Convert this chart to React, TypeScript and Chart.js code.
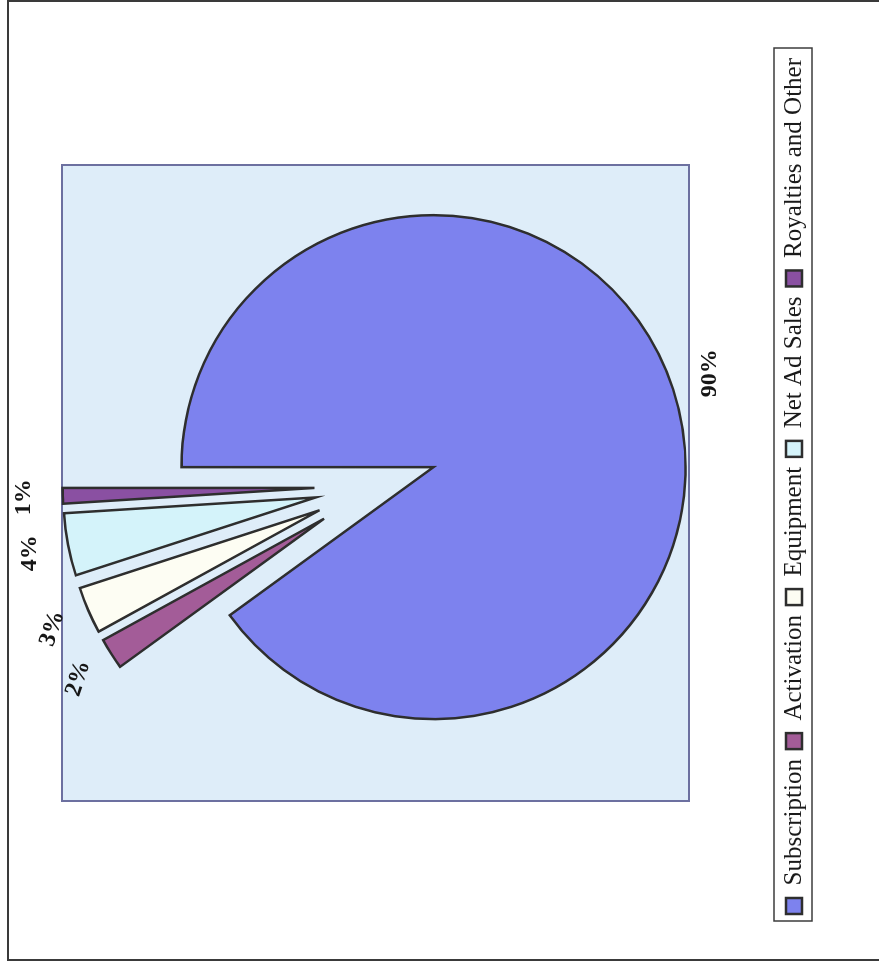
import { useEffect, useRef } from "react";
import { Chart, registerables } from "chart.js";

Chart.register(...registerables);

// Revenue mix, share of total (%)
const categories = ["Subscription", "Activation", "Equipment", "Net Ad Sales", "Royalties and Other"];
const shares = [90, 2, 3, 4, 1];
const sliceColors = ["#7d82ee", "#a35c98", "#fdfdf3", "#d4f3fa", "#8a50a2"];
const labelTiltDeg = [0, 18, 18, 0, 0];

// The chart is laid out landscape and turned a quarter-turn on the page.
const FRAME_W = 964;
const FRAME_H = 879;
const RADIUS = 252;
const EXPLODE = 61;
const LABEL_GAP = 28;
const SERIF = "'Liberation Serif', 'Times New Roman', serif";

// Every slice pulled away from the centre along its bisector.
const explodePlugin = {
  id: "explodeSlices",
  beforeDatasetDraw(chart: any, args: any) {
    const { ctx } = chart;
    args.meta.data.forEach((arc: any) => {
      const mid = (arc.startAngle + arc.endAngle) / 2;
      ctx.save();
      ctx.translate(Math.cos(mid) * EXPLODE, Math.sin(mid) * EXPLODE);
      arc.draw(ctx, chart.chartArea);
      ctx.restore();
    });
    return false;
  },
};

// Shaded plot area behind the pie.
const plotAreaPlugin = {
  id: "plotArea",
  beforeDatasetsDraw(chart: any) {
    const { ctx, chartArea } = chart;
    const cx = (chartArea.left + chartArea.right) / 2;
    const left = cx - 315;
    const right = cx + 321;
    ctx.save();
    ctx.fillStyle = "#deedf9";
    ctx.fillRect(left, chartArea.top, right - left, chartArea.bottom - chartArea.top);
    ctx.strokeStyle = "#6c70a0";
    ctx.lineWidth = 2;
    ctx.strokeRect(left, chartArea.top, right - left, chartArea.bottom - chartArea.top);
    ctx.restore();
  },
};

// Percent labels just outside each slice.
const sliceLabelPlugin = {
  id: "sliceLabels",
  afterDatasetsDraw(chart: any) {
    const { ctx } = chart;
    const meta = chart.getDatasetMeta(0);
    ctx.save();
    ctx.font = `bold 24px ${SERIF}`;
    ctx.fillStyle = "#161616";
    ctx.textAlign = "center";
    ctx.textBaseline = "middle";
    meta.data.forEach((arc: any, i: number) => {
      const text = `${shares[i]}%`;
      const mid = (arc.startAngle + arc.endAngle) / 2;
      const dx = Math.cos(mid);
      const dy = Math.sin(mid);
      const dist = arc.outerRadius + EXPLODE + LABEL_GAP;
      const w = ctx.measureText(text).width;
      const h = 22;
      const x = arc.x + dx * dist + (dx * w) / 2;
      const y = arc.y + dy * dist + (dy * h) / 2;
      ctx.save();
      ctx.translate(x, y);
      ctx.rotate((labelTiltDeg[i] * Math.PI) / 180);
      ctx.fillText(text, 0, 0);
      ctx.restore();
    });
    ctx.restore();
  },
};

// Thin frame around the legend row.
const legendFramePlugin = {
  id: "legendFrame",
  afterDraw(chart: any) {
    const legend = chart.legend;
    if (!legend || !legend.legendHitBoxes || !legend.legendHitBoxes.length) return;
    const boxes = legend.legendHitBoxes;
    const first = boxes[0];
    const last = boxes[boxes.length - 1];
    const mid = first.top + first.height / 2;
    const { ctx } = chart;
    ctx.save();
    ctx.strokeStyle = "#3c3c3c";
    ctx.lineWidth = 1.5;
    ctx.strokeRect(first.left - 7, mid - 20, last.left + last.width + 10 - (first.left - 7), 38);
    ctx.restore();
  },
};

export default function App() {
  const canvasRef = useRef<HTMLCanvasElement>(null);

  useEffect(() => {
    const canvas = canvasRef.current;
    if (!canvas) return;
    const chart = new Chart(canvas, {
      type: "pie",
      data: {
        labels: categories,
        datasets: [
          {
            data: shares,
            backgroundColor: sliceColors,
            borderColor: "#2e2e2e",
            borderWidth: 2.5,
            borderJoinStyle: "miter",
          },
        ],
      },
      options: {
        animation: false,
        responsive: false,
        radius: RADIUS,
        layout: { padding: { top: 62, bottom: 62.5, left: 0, right: 8 } },
        plugins: {
          tooltip: { enabled: false },
          legend: {
            position: "bottom",
            title: { display: true, text: "", padding: { top: 72.5, bottom: 0 }, font: { size: 10, lineHeight: 1 } },
            labels: {
              boxWidth: 16,
              boxHeight: 16,
              padding: 10,
              color: "#1a1a1a",
              font: { family: SERIF, size: 25 },
            },
          },
        },
      },
      plugins: [plotAreaPlugin, explodePlugin, sliceLabelPlugin, legendFramePlugin],
    });
    return () => chart.destroy();
  }, []);

  return (
    <div
      style={{
        position: "fixed",
        left: 0,
        top: 0,
        width: 879,
        height: 964,
        overflow: "hidden",
        background: "#ffffff",
      }}
    >
      <div
        style={{
          position: "absolute",
          left: 7,
          top: 0,
          width: 920,
          height: 961,
          border: "2px solid #3a3a3a",
          boxSizing: "border-box",
        }}
      />
      <div
        style={{
          position: "absolute",
          left: 0,
          top: 0,
          width: FRAME_W,
          height: FRAME_H,
          transformOrigin: "0 0",
          transform: `translateY(${FRAME_W}px) rotate(-90deg)`,
        }}
      >
        <canvas ref={canvasRef} width={FRAME_W} height={FRAME_H} style={{ display: "block" }} />
      </div>
    </div>
  );
}
